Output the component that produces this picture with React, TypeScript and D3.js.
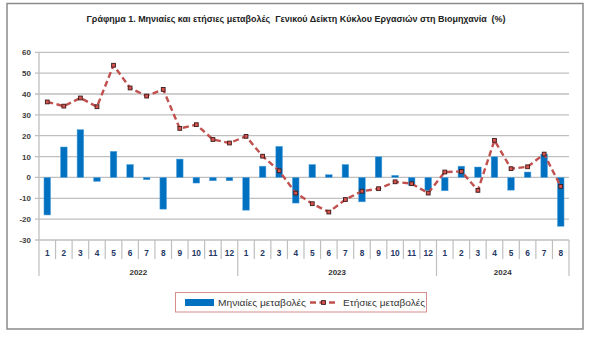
import React from "react";
import * as d3 from "d3";

const years = ["2022", "2023", "2024"];
const monthsPerYear = [12, 12, 8];
const monthly = [
  -18, 14.6, 22.9, -1.9, 12.5, 6.2, -1.1, -15.2, 8.8, -2.7, -1.6, -1.6,
  -15.7, 5.4, 14.9, -12.3, 6.2, 1.3, 6.2, -11.7, 9.9, 1.0, -3.8, -6.2,
  -6.4, 5.4, 5.0, 9.9, -6.1, 2.6, 11.2, -23.4,
];
const annual = [
  36.2, 34.2, 38.1, 33.9, 53.8, 42.9, 39.0, 42.2, 23.5, 25.3, 18.2, 16.5,
  19.7, 10.2, 3.2, -7.5, -12.6, -16.6, -10.6, -6.6, -5.4, -2.1, -3.0, -7.5,
  2.6, 2.9, -6.2, 17.8, 4.2, 5.1, 11.2, -4.3,
];
const yTicks = [60, 50, 40, 30, 20, 10, 0, -10, -20, -30];
const title = "Γράφημα 1. Μηνιαίες και ετήσιες μεταβολές  Γενικού Δείκτη Κύκλου Εργασιών στη Βιομηχανία  (%)";
const legendBar = "Μηνιαίες μεταβολές";
const legendLine = "Ετήσιες μεταβολές";

const cats: { key: string; label: string; yearIdx: number }[] = [];
years.forEach((y, yi) => {
  for (let m = 1; m <= monthsPerYear[yi]; m++) cats.push({ key: `${y}-${m}`, label: String(m), yearIdx: yi });
});

const FONT = "'Liberation Sans', Arial, sans-serif";

export default function App() {
  const W = 600, H = 345;
  const left = 39, right = 569, top = 52.3, bottom = 240;
  const x = d3.scaleBand().domain(cats.map((c) => c.key)).range([left, right]).paddingInner(0.6).paddingOuter(0.3);
  const xc = d3.scaleBand().domain(cats.map((c) => c.key)).range([left, right]);
  const y = d3.scaleLinear().domain([-30, 60]).range([bottom, top]);
  const line = d3.line<number>().x((_, i) => xc(cats[i].key)! + xc.bandwidth() / 2).y((d) => y(d));

  const yearStarts: number[] = [];
  let acc = 0;
  monthsPerYear.forEach((n) => { yearStarts.push(acc); acc += n; });

  return (
    <svg width={W} height={H} style={{ display: "block", position: "absolute", left: 0, top: 0 }}>
      <rect x={0} y={0} width={W} height={H} fill="#fff" />
      <rect x={7} y={3.5} width={576} height={325.5} fill="#fff" stroke="#8a8a8a" strokeWidth={1.5} />
      <text x={296} y={22} textAnchor="middle" fontFamily={FONT} fontWeight="bold" fontSize={8.6} fill="#222"
        textLength={419} lengthAdjust="spacingAndGlyphs" style={{ whiteSpace: "pre" }}>{title}</text>

      {yTicks.map((t) => (
        <g key={t}>
          <line x1={left - 4} x2={right} y1={y(t)} y2={y(t)} stroke="#bfbfbf" strokeWidth={1.3} />
          <text x={31} y={y(t) + 3} textAnchor="end" fontFamily={FONT} fontWeight="bold" fontSize={8} fill="#404040">{t}</text>
        </g>
      ))}
      <line x1={left} x2={left} y1={top} y2={bottom} stroke="#bfbfbf" strokeWidth={1.3} />

      {monthly.map((v, i) => (
        <rect key={i} x={x(cats[i].key)} width={x.bandwidth()} y={Math.min(y(v), y(0))} height={Math.abs(y(v) - y(0))}
          fill="#0070c0" stroke="#5aa7e0" strokeWidth={0.5} />
      ))}

      <path d={line(annual) || ""} fill="none" stroke="#c0504d" strokeWidth={2.4} strokeDasharray="6,3.5" />
      {annual.map((v, i) => (
        <rect key={i} x={xc(cats[i].key)! + xc.bandwidth() / 2 - 1.9} y={y(v) - 1.9} width={3.8} height={3.8}
          fill="#d9534f" stroke="#3a1c1c" strokeWidth={0.9} />
      ))}

      {cats.map((c, i) => {
        const xs = xc(c.key)!;
        const isYearStart = yearStarts.includes(i);
        return (
          <g key={c.key}>
            <line x1={xs} x2={xs} y1={bottom} y2={isYearStart ? 276 : 259} stroke="#bfbfbf" strokeWidth={1.2} />
            <text x={xs + xc.bandwidth() / 2} y={256} textAnchor="middle" fontFamily={FONT} fontWeight="bold" fontSize={8.3} fill="#1f3864">{c.label}</text>
          </g>
        );
      })}
      <line x1={right} x2={right} y1={bottom} y2={276} stroke="#bfbfbf" strokeWidth={1.2} />
      {years.map((yr, yi) => {
        const s = xc(cats[yearStarts[yi]].key)!;
        const e = xc(cats[yearStarts[yi] + monthsPerYear[yi] - 1].key)! + xc.bandwidth();
        return (
          <text key={yr} x={(s + e) / 2} y={275} textAnchor="middle" fontFamily={FONT} fontWeight="bold" fontSize={8} fill="#333">{yr}</text>
        );
      })}

      <rect x={175.5} y={292.5} width={251} height={19.5} fill="#fff" stroke="#d98c8c" strokeWidth={1} />
      <rect x={185} y={299} width={29} height={7} fill="#0070c0" />
      <text x={218} y={306} fontFamily={FONT} fontSize={9.5} fill="#333" textLength={88} lengthAdjust="spacingAndGlyphs">{legendBar}</text>
      <line x1={310} x2={337} y1={302.5} y2={302.5} stroke="#c0504d" strokeWidth={2.4} strokeDasharray="6,3.5" />
      <rect x={321.6} y={300.6} width={3.8} height={3.8} fill="#d9534f" stroke="#3a1c1c" strokeWidth={0.9} />
      <text x={343} y={306} fontFamily={FONT} fontSize={9.5} fill="#333" textLength={82} lengthAdjust="spacingAndGlyphs">{legendLine}</text>
    </svg>
  );
}
